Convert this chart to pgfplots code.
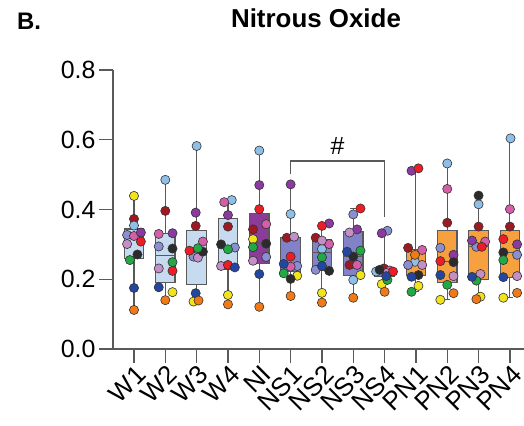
\documentclass[border=0pt]{standalone}
\usepackage{pgfplots}
\pgfplotsset{compat=1.18}
\usepgfplotslibrary{statistics}
\usepackage{fontspec}
\setmainfont{Liberation Sans}
\definecolor{axgray}{HTML}{5A5A5A}
\definecolor{wfill}{HTML}{C6DBF0}
\definecolor{nifill}{HTML}{8A3C98}
\definecolor{nsfill}{HTML}{8282C8}
\definecolor{pnfill}{HTML}{F7A040}
\definecolor{cyellow}{HTML}{F2E41C}
\definecolor{cdarkred}{HTML}{9E1A22}
\definecolor{clightblue}{HTML}{8FBFE6}
\definecolor{clavender}{HTML}{8A8FD2}
\definecolor{cpink}{HTML}{D45FA8}
\definecolor{cpurple}{HTML}{8A3AA0}
\definecolor{clilac}{HTML}{C48EC6}
\definecolor{cred}{HTML}{EE1C24}
\definecolor{cblack}{HTML}{2B2B2B}
\definecolor{cgreen}{HTML}{22A845}
\definecolor{cblue}{HTML}{2346A0}
\definecolor{corange}{HTML}{F07A18}
\newcommand{\bx}[7]{\addplot[boxplot prepared={lower whisker=#1, lower quartile=#2, median=#3, upper quartile=#4, upper whisker=#5, draw position=#6, box extend=0.62, whisker extend=0.2}, draw=black!65, line width=1.1bp, fill=#7] coordinates {};}
\newcommand{\pts}[2]{\addplot[only marks, mark=*, mark size=4.6bp, mark options={draw=black!80, line width=0.6bp, fill=#1}] coordinates {#2};}
\begin{document}
\begin{tikzpicture}
\useasboundingbox (-113bp,-77bp) rectangle (411bp,349bp);
\begin{axis}[
  at={(0,0)}, anchor=south west,
  scale only axis, width=411bp, height=279bp,
  xmin=-0.67, xmax=12.45, ymin=0, ymax=0.8,
  boxplot/draw direction=y,
  axis lines*=left,
  axis line style={axgray, line width=1.3bp},
  tick style={axgray, line width=1.3bp},
  tick align=outside, major tick length=14bp,
  xtick={0,...,12},
  xticklabels={W1,W2,W3,W4,NI,NS1,NS2,NS3,NS4,PN1,PN2,PN3,PN4},
  xticklabel style={rotate=45, anchor=north east, font=\fontsize{26}{26}\selectfont, inner sep=1bp, xshift=1bp},
  ytick={0,0.2,0.4,0.6,0.8},
  yticklabel style={font=\fontsize{25}{25}\selectfont, /pgf/number format/.cd, fixed, fixed zerofill, precision=1, assume math mode=true},
  clip=false,
]
\bx{0.112}{0.259}{0.316}{0.344}{0.439}{0}{wfill}
\bx{0.140}{0.190}{0.268}{0.330}{0.485}{1}{wfill}
\bx{0.136}{0.186}{0.280}{0.339}{0.582}{2}{wfill}
\bx{0.128}{0.228}{0.292}{0.375}{0.427}{3}{wfill}
\bx{0.121}{0.246}{0.305}{0.389}{0.569}{4}{nifill}
\bx{0.152}{0.222}{0.241}{0.320}{0.472}{5}{nsfill}
\bx{0.133}{0.225}{0.276}{0.315}{0.360}{6}{nsfill}
\bx{0.147}{0.212}{0.265}{0.338}{0.403}{7}{nsfill}
\bx{0.164}{0.207}{0.222}{0.231}{0.339}{8}{nsfill}
\bx{0.164}{0.210}{0.250}{0.286}{0.518}{9}{pnfill}
\bx{0.141}{0.191}{0.252}{0.341}{0.532}{10}{pnfill}
\bx{0.143}{0.200}{0.293}{0.339}{0.440}{11}{pnfill}
\bx{0.147}{0.206}{0.276}{0.339}{0.604}{12}{pnfill}
\pts{cyellow}{(0,0.439) (1.23,0.163) (1.9,0.136) (3,0.155) (3.8,0.315) (5.21,0.210) (6,0.161) (7.23,0.212) (7.91,0.186) (9.08,0.181) (9.78,0.141) (11.06,0.150) (11.79,0.147)}
\pts{cdarkred}{(0,0.373) (1,0.396) (1.97,0.353) (3,0.351) (3.8,0.343) (4.88,0.319) (5.8,0.319) (6.88,0.241) (7.98,0.231) (8.75,0.290) (10,0.362) (11,0.351) (12,0.351)}
\pts{clightblue}{(0,0.354) (1,0.485) (2,0.582) (3.12,0.427) (4,0.569) (5,0.387) (6,0.287) (7,0.198) (7.73,0.222) (8.97,0.250) (10,0.532) (11,0.415) (12.02,0.604)}
\pts{clavender}{(-0.22,0.327) (0.79,0.294) (1.9,0.265) (3.22,0.291) (4.22,0.264) (5.21,0.238) (5.8,0.227) (7,0.386) (8.09,0.339) (8.75,0.241) (9.78,0.290) (10.93,0.293) (12.23,0.270)}
\pts{cpink}{(0,0.324) (0.79,0.330) (2.2,0.308) (2.88,0.421) (4.22,0.358) (5,0.236) (6.23,0.301) (7.12,0.241) (8.16,0.225) (9.2,0.284) (10,0.459) (11.21,0.308) (12,0.401)}
\pts{cpurple}{(0.22,0.334) (1.23,0.332) (1.97,0.391) (3,0.384) (4,0.470) (5,0.472) (6.23,0.360) (7.12,0.343) (7.91,0.332) (8.86,0.511) (10.2,0.270) (10.79,0.311) (12.23,0.300)}
\pts{clilac}{(-0.22,0.301) (0.79,0.231) (2.04,0.262) (2.78,0.238) (3.8,0.253) (5.11,0.322) (6,0.311) (6.88,0.334) (8.05,0.218) (9.2,0.241) (10.2,0.209) (11.06,0.215) (12.23,0.209)}
\pts{cred}{(0.22,0.308) (1.23,0.224) (1.77,0.282) (3,0.241) (4,0.401) (5,0.265) (6,0.353) (7.23,0.403) (8.27,0.222) (9.08,0.518) (9.78,0.252) (11.1,0.293) (11.79,0.315)}
\pts{cblack}{(0.11,0.271) (1.23,0.288) (2.2,0.279) (2.78,0.300) (4.22,0.302) (5,0.201) (6.23,0.224) (7,0.265) (7.84,0.227) (9.08,0.212) (10.2,0.249) (11,0.440) (11.79,0.277)}
\pts{cgreen}{(-0.13,0.255) (1.23,0.249) (2.04,0.289) (3,0.286) (3.8,0.292) (4.78,0.217) (6,0.263) (7.23,0.282) (8.09,0.198) (8.86,0.164) (10,0.184) (10.93,0.196) (11.79,0.255)}
\pts{cblue}{(0,0.175) (0.79,0.177) (1.97,0.160) (3.22,0.234) (4,0.215) (4.78,0.244) (6,0.238) (6.8,0.279) (8.05,0.209) (8.86,0.207) (9.78,0.212) (10.79,0.207) (11.79,0.206)}
\pts{corange}{(0,0.112) (1,0.140) (2.06,0.139) (3,0.128) (4,0.121) (5,0.152) (6,0.133) (7,0.147) (8,0.164) (8.97,0.270) (10.2,0.160) (10.93,0.143) (12.23,0.161)}
\draw[axgray, line width=1.3bp] (axis cs:5,0.502) -- (axis cs:5,0.539) -- (axis cs:8,0.539) -- (axis cs:8,0.379);
\node[font=\fontsize{25}{25}\selectfont] at (axis cs:6.5,0.582) {\#};
\end{axis}
\node[anchor=base, font=\bfseries\fontsize{26}{26}\selectfont] at (203bp,321bp) {Nitrous Oxide};
\node[anchor=base west, inner sep=0pt, font=\bfseries\fontsize{24}{24}\selectfont] at (-96bp,319bp) {B.};
\end{tikzpicture}
\end{document}
